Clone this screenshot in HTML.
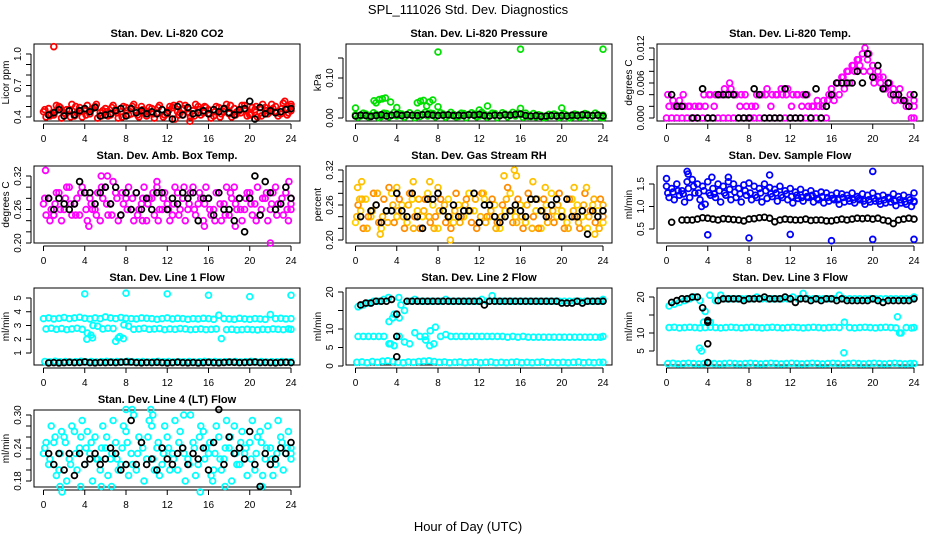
<!DOCTYPE html>
<html><head><meta charset="utf-8"><style>
html,body{margin:0;padding:0;background:#fff;}
svg{display:block;font-family:"Liberation Sans",Arial,sans-serif;}
</style></head><body>
<svg id="c" width="936" height="540" viewBox="0 0 936 540">
<text x="468" y="14" text-anchor="middle" font-size="13">SPL_111026  Std. Dev. Diagnostics</text>
<text x="468" y="531" text-anchor="middle" font-size="13">Hour of Day (UTC)</text>
</svg>
<script>
// ---- shared categories ----
const hours = []; for (let i = 0; i <= 48; i++) hours.push(i * 0.5);
const hoursB = []; for (let i = 0; i <= 48; i++) hoursB.push(Math.min(24, i * 0.5 + 0.25));
const hoursC = []; for (let i = 0; i <= 48; i++) hoursC.push(Math.min(24, i * 0.5 + 0.125));
const xTicks = [0, 4, 8, 12, 16, 20, 24];

// ---- CO2 ----
const co2A = [0.45,0.48,0.42,0.50,0.44,0.47,0.41,0.49,0.46,0.43,0.50,0.44,0.48,0.42,0.47,0.45,0.49,0.43,0.46,0.50,0.41,0.48,0.44,0.47,0.43,0.49,0.45,0.42,0.48,0.46,0.50,0.44,0.47,0.41,0.49,0.45,0.43,0.48,0.46,0.51,0.42,0.47,0.44,0.49,0.45,0.50,0.43,0.48,0.52];
const co2B = [0.40,0.43,0.51,0.39,0.47,0.52,0.44,0.40,0.51,0.48,0.39,0.46,0.41,0.51,0.39,0.50,0.42,0.52,0.40,0.44,0.49,0.39,0.51,0.42,0.50,0.38,0.44,0.51,0.40,0.52,0.42,0.49,0.39,0.50,0.43,0.52,0.40,0.45,0.51,0.41,0.49,0.40,0.52,0.43,0.48,0.41,0.53,0.44,0.46];
const co2C = [0.47,0.41,0.45,0.49,0.43,0.40,0.50,0.46,0.42,0.47,0.52,0.41,0.45,0.49,0.44,0.40,0.46,0.50,0.42,0.47,0.45,0.43,0.49,0.40,0.46,0.51,0.42,0.48,0.44,0.41,0.47,0.50,0.43,0.45,0.40,0.48,0.51,0.42,0.44,0.47,0.43,0.50,0.41,0.46,0.52,0.44,0.48,0.42,0.50];
const co2OutH = [1.0,13.2,14.2,23.4];
const co2OutV = [1.07,0.52,0.36,0.55];
const co2K = [null,0.42,0.44,0.47,0.41,0.46,0.42,0.46,0.48,0.45,0.49,0.41,0.42,0.43,0.46,0.48,0.41,0.48,0.44,0.46,0.43,0.45,0.43,0.47,0.44,0.38,0.50,0.42,0.49,0.43,0.44,0.46,0.43,0.47,0.45,0.48,0.44,0.42,0.47,0.48,0.55,0.38,0.49,0.43,0.46,0.44,0.45,0.47,0.48];

// ---- Pressure ----
const prA = [0.008,0.005,0.010,0.006,0.009,0.004,0.011,0.007,0.005,0.010,0.008,0.006,0.012,0.009,0.005,0.011,0.007,0.010,0.006,0.009,0.004,0.011,0.008,0.010,0.005,0.009,0.007,0.011,0.006,0.010,0.008,0.005,0.009,0.012,0.004,0.003,0.006,0.002,0.005,0.007,0.004,0.006,0.003,0.008,0.005,0.009,0.006,0.008,0.007];
const prB = [0.002,0.012,0.003,0.013,0.001,0.012,0.003,0.014,0.011,0.002,0.013,0.001,0.004,0.014,0.012,0.003,0.013,0.002,0.014,0.003,0.012,0.001,0.013,0.003,0.014,0.002,0.012,0.001,0.013,0.003,0.014,0.012,0.002,0.004,0.011,0.008,0.001,0.009,0.010,0.001,0.010,0.000,0.010,0.002,0.011,0.001,0.012,0.002,0.001];
const prOutH = [0,1.8,2.0,2.3,2.6,2.9,3.4,4.0,6.0,6.3,6.6,6.9,7.2,7.5,8.0,8.0,12.0,12.8,16.0,16.0,20.0,24.0];
const prOutV = [0.025,0.043,0.038,0.046,0.048,0.050,0.040,0.026,0.038,0.042,0.044,0.030,0.040,0.045,0.028,0.165,0.020,0.030,0.024,0.172,0.025,0.172];
const prK = [0.005,0.007,0.006,0.004,0.006,0.008,0.005,0.007,0.009,0.006,0.008,0.007,0.006,0.008,0.009,0.007,0.006,0.007,0.008,0.006,0.007,0.006,0.008,0.007,0.009,0.006,0.005,0.007,0.006,0.008,0.007,0.009,0.010,0.006,0.005,0.006,0.004,0.005,0.006,0.005,0.006,0.005,0.007,0.006,0.008,0.007,0.006,0.007,0.005];

// ---- Li-820 Temp ----
const tpA = [0,0,0,0,0,0,0,0,0,0,0,0,0,0,0,0,0,0,0,0,0,0,0,0,0,0,0,0,0,0,0,0,0.005,0.006,0.007,0.008,0.009,0.010,0.011,0.010,0.009,0.008,0.007,0.006,0.005,0.004,0.003,0.002,0.000];
const tpB = [0.002,0.002,0.003,0.002,0.002,0.002,0.002,0.002,0.004,0.004,0.004,0.004,0.005,0.004,0.004,0.002,0.002,0.004,0.004,0.005,0.004,0.004,0.004,0.005,0.004,0.004,0.004,0.002,0.002,0.002,0.003,0.004,0.003,0.004,0.005,0.006,0.008,0.009,0.012,0.008,0.007,0.006,0.005,0.004,0.004,0.003,0.002,0.000,0.002];
const tpC = [0.004,0.003,0.002,0.004,0.002,0.000,0.002,0.004,0.004,0.002,0.004,0.005,0.006,0.004,0.002,0.004,0.000,0.002,0.004,0.004,0.002,0.004,0.005,0.004,0.002,0.004,0.002,0.004,0.002,0.003,0.002,0.003,0.004,0.006,0.007,0.008,0.009,0.010,0.008,0.011,0.006,0.007,0.005,0.006,0.003,0.005,0.003,0.004,0.003];
const tpK = [null,0.004,0.002,0.002,null,0.000,0.000,0.005,0.000,0.000,0.004,0.004,0.004,0.004,0.000,0.000,0.000,0.005,0.004,0.000,0.000,0.000,0.000,0.005,0.000,0.000,0.000,0.004,0.000,0.005,0.000,0.002,0.004,0.006,0.006,0.006,0.006,0.008,0.006,0.011,0.007,0.009,0.005,0.006,0.004,0.004,0.003,0.002,0.004];

// ---- Amb Box Temp ----
const abA = [0.27,0.28,0.25,0.29,0.26,0.30,0.27,0.25,0.29,0.28,0.26,0.24,0.30,0.27,0.29,0.25,0.28,0.26,0.29,0.27,0.24,0.28,0.30,0.26,0.27,0.25,0.29,0.28,0.26,0.30,0.27,0.24,0.28,0.26,0.29,0.27,0.25,0.30,0.28,0.26,0.29,0.27,0.25,0.28,0.26,0.30,0.27,0.29,0.26];
const abB = [0.25,0.26,0.29,0.24,0.30,0.25,0.28,0.30,0.24,0.26,0.29,0.28,0.25,0.31,0.24,0.27,0.30,0.24,0.26,0.30,0.28,0.25,0.26,0.29,0.24,0.30,0.26,0.24,0.29,0.25,0.28,0.30,0.25,0.29,0.24,0.30,0.28,0.26,0.24,0.29,0.25,0.30,0.28,0.24,0.29,0.27,0.25,0.24,0.28];
const abC = [0.28,0.24,0.27,0.26,0.28,0.27,0.25,0.29,0.26,0.27,0.25,0.30,0.27,0.25,0.28,0.29,0.26,0.28,0.25,0.28,0.27,0.29,0.24,0.28,0.26,0.27,0.25,0.30,0.27,0.26,0.29,0.27,0.26,0.24,0.27,0.25,0.29,0.27,0.26,0.28,0.27,0.24,0.26,0.29,0.27,0.25,0.28,0.26,0.27];
const abOutH = [0.2,1.0,4.4,5.6,6.2,9.6,11.0,15.6,18.6,22.0,23.8];
const abOutV = [0.33,0.25,0.23,0.32,0.32,0.24,0.31,0.23,0.23,0.20,0.31];
const abK = [null,0.28,0.26,0.28,0.27,0.26,0.27,0.31,0.29,0.29,0.27,0.29,0.30,0.27,0.30,0.25,0.29,0.26,0.29,0.26,0.28,0.26,0.29,0.29,0.26,0.28,0.27,0.29,0.28,0.29,0.24,0.28,0.28,0.25,0.29,0.26,0.26,0.24,0.28,0.22,0.28,0.32,0.25,0.31,0.29,0.26,0.27,0.30,0.28];

// ---- Gas Stream RH ----
const rhA = [0.23,0.25,0.27,0.24,0.26,0.22,0.25,0.28,0.24,0.26,0.23,0.27,0.25,0.24,0.28,0.26,0.22,0.25,0.27,0.23,0.26,0.24,0.28,0.25,0.23,0.27,0.24,0.26,0.22,0.25,0.28,0.24,0.26,0.23,0.27,0.25,0.22,0.26,0.28,0.24,0.25,0.23,0.27,0.26,0.24,0.22,0.26,0.25,0.23];
const rhB = [0.26,0.22,0.24,0.28,0.23,0.27,0.29,0.23,0.27,0.22,0.28,0.24,0.22,0.27,0.23,0.24,0.27,0.23,0.22,0.28,0.24,0.27,0.23,0.22,0.28,0.24,0.27,0.23,0.26,0.29,0.23,0.27,0.22,0.28,0.24,0.22,0.27,0.24,0.23,0.28,0.22,0.27,0.24,0.22,0.28,0.25,0.23,0.27,0.24];
const rhC = [0.24,0.27,0.22,0.25,0.28,0.24,0.23,0.26,0.25,0.24,0.26,0.22,0.27,0.25,0.24,0.22,0.25,0.26,0.24,0.25,0.23,0.26,0.25,0.27,0.24,0.23,0.25,0.22,0.24,0.27,0.25,0.23,0.24,0.26,0.22,0.27,0.25,0.23,0.25,0.26,0.24,0.22,0.25,0.23,0.26,0.24,0.27,0.22,0.26];
const rhOutH = [0.2,0.4,0.6,2.4,4.0,5.6,7.2,8.0,9.2,12.4,14.4,15.4,15.6,17.2,18.4,21.2,22.4,23.2];
const rhOutV = [0.29,0.27,0.30,0.21,0.29,0.30,0.30,0.29,0.20,0.28,0.31,0.32,0.31,0.30,0.29,0.29,0.29,0.21];
const rhK = [null,0.24,null,0.25,0.26,0.23,0.25,0.25,0.28,0.25,0.24,0.28,0.24,0.22,0.27,0.27,0.28,0.25,0.24,0.26,0.24,0.25,0.25,0.28,0.23,0.26,0.26,0.24,0.23,0.24,0.25,0.26,0.25,0.24,0.27,0.27,0.25,0.24,0.26,0.27,0.24,0.27,0.24,0.24,0.25,0.21,0.25,0.24,0.25];

// ---- Sample Flow ----
const sfA = [1.45,1.40,1.50,1.35,1.55,1.60,1.50,1.45,1.55,1.40,1.50,1.45,1.55,1.50,1.40,1.48,1.52,1.45,1.40,1.50,1.42,1.38,1.45,1.35,1.40,1.32,1.38,1.30,1.35,1.28,1.32,1.30,1.25,1.30,1.28,1.25,1.30,1.22,1.28,1.25,1.30,1.22,1.25,1.20,1.28,1.22,1.25,1.20,1.30];
const sfB = [1.20,1.15,1.25,1.10,1.20,1.30,1.15,1.05,1.25,1.20,1.10,1.25,1.15,1.20,1.10,1.25,1.15,1.20,1.10,1.18,1.22,1.12,1.20,1.15,1.08,1.18,1.12,1.20,1.10,1.15,1.08,1.12,1.15,1.05,1.10,1.12,1.08,1.15,1.05,1.10,1.12,1.05,1.08,1.10,1.02,1.08,1.05,1.00,1.10];
const sfC = [1.30,1.32,1.35,1.28,1.40,1.45,1.30,1.35,1.30,1.28,1.35,1.30,1.38,1.32,1.28,1.35,1.30,1.25,1.30,1.35,1.28,1.30,1.25,1.28,1.22,1.25,1.20,1.22,1.25,1.18,1.22,1.20,1.18,1.15,1.20,1.18,1.15,1.18,1.12,1.15,1.18,1.12,1.15,1.18,1.12,1.15,1.10,1.15,1.12];
const sfOutH = [0,2,2.1,4,4.4,6,8,10,12,16,20,20,24,3.4];
const sfOutV = [1.62,1.78,1.72,0.37,1.65,1.65,0.30,1.70,0.38,0.24,1.78,0.27,0.27,1.0];
const sfK = [null,0.65,null,0.70,0.70,0.70,0.72,0.75,0.74,0.72,0.70,0.73,0.72,0.71,0.70,0.68,0.72,0.73,0.75,0.76,0.74,0.66,0.70,0.72,0.71,0.70,0.70,0.72,0.69,0.70,0.70,0.68,0.68,0.70,0.72,0.70,0.72,0.74,0.73,0.74,0.72,0.74,0.70,0.68,0.62,0.70,0.72,0.74,0.72];

// ---- Line 1 Flow ----
const l1A = [3.50,3.55,3.48,3.52,3.58,3.50,3.55,3.60,3.52,3.48,3.55,3.50,3.62,3.55,3.50,3.58,3.52,3.50,3.48,3.55,3.52,3.50,3.45,3.50,3.55,3.48,3.52,3.50,3.45,3.50,3.48,3.52,3.50,3.45,3.75,3.50,3.48,3.45,3.52,3.48,3.45,3.50,3.48,3.45,3.80,3.50,3.52,3.48,3.50];
const l1B = [2.75,2.80,2.72,2.78,2.70,2.75,2.80,2.72,2.45,2.10,2.95,2.75,2.80,2.78,2.10,2.05,2.95,2.72,2.75,2.80,2.72,2.75,2.78,2.70,2.75,2.72,2.78,2.75,2.70,2.72,2.75,2.70,2.72,2.75,2.05,2.70,2.72,2.68,2.70,2.72,2.70,2.68,2.72,2.70,2.75,2.72,2.70,2.75,2.72];
const l1C = [0.38,0.35,0.40,0.36,0.38,0.35,0.37,0.40,0.36,0.38,0.35,0.37,0.39,0.36,0.38,0.35,0.40,0.37,0.36,0.38,0.35,0.37,0.39,0.36,0.38,0.35,0.37,0.36,0.38,0.35,0.37,0.39,0.36,0.38,0.35,0.37,0.36,0.38,0.35,0.37,0.39,0.36,0.38,0.35,0.37,0.36,0.38,0.35,0.37];
const l1OutH = [4,8,12,16,20,24,7,7.4,7.8,4.2,4.6,4.8];
const l1OutV = [5.3,5.35,5.3,5.2,5.1,5.2,1.85,2.2,3.05,2.0,2.3,3.0];
const l1K = [null,0.28,0.30,0.28,0.30,0.32,0.30,0.31,0.35,0.30,0.29,0.31,0.30,0.32,0.30,0.33,0.35,0.34,0.30,0.29,0.31,0.30,0.32,0.30,0.28,0.30,0.33,0.30,0.29,0.31,0.28,0.30,0.32,0.30,0.29,0.31,0.33,0.32,0.30,0.31,0.32,0.34,0.30,0.31,0.30,0.29,0.31,0.32,0.30];

// ---- Line 2 Flow ----
const l2A = [16,16.5,17,17.5,17.5,18,12,14,13,15,17.5,18,17.5,17.5,17.5,17.5,17.5,18,17.5,17.5,17.5,17.5,17.5,17.5,18,17.5,19,17.5,17.5,17.5,17.5,17.5,17.5,17.5,17.5,17.5,17.5,17.5,17.5,17.5,17.5,17.5,17.5,17.5,17.5,17.5,17.5,17.5,18];
const l2B = [8,8,8,8,8,8,6,5.5,8,6.5,6,9,8,8,9.5,10.5,8,8.5,8,8,8,8,8,8,8,8,8,8,8,7.8,8,7.8,8,7.8,7.8,7.8,7.8,7.8,7.8,7.8,7.8,7.8,7.8,7.8,7.8,7.8,7.8,7.8,8];
const l2C = [1.0,1.1,0.9,1.2,1.0,1.3,1.4,1.2,1.0,0.9,1.1,1.0,1.2,1.3,1.4,1.2,1.0,1.1,0.9,1.0,1.1,0.9,1.0,1.1,0.9,1.0,1.1,0.9,1.0,0.9,1.0,1.1,0.9,1.0,0.9,1.0,1.1,0.9,1.0,0.9,1.0,0.9,1.0,1.1,0.9,1.0,0.9,1.0,1.0];
const l2OutH = [3.6,4.2,4.4,7.2,7.6,6.8,3.2,3.4];
const l2OutV = [13,18.5,16.5,5.5,6,7,18.5,6];
const l2K = [null,16.5,17,17,17.5,17.5,17.5,18,14,null,17.5,17.5,17.5,17.5,17.5,17.5,17.5,17.5,17.5,17.5,17.5,17.5,17.5,17.5,17.5,16.5,17.5,17.5,17.5,17.5,17.5,17.5,17.5,17.5,17.5,17.5,17.5,17.5,17.5,17.5,17,17,17,17.5,17,17.5,17.5,17.5,17.5];
const l2KxH = [4,4];
const l2KxV = [8,2.5];

// ---- Line 3 Flow ----
const l3A = [17.5,18,18.5,19,19.5,20,19,16,13,19,20.5,19.5,19.5,19.5,19.5,19.5,19.5,20,19.5,19.5,19.5,19.5,19.5,19.5,20,19.5,21,19.5,19.5,19.5,19.5,19.5,19.5,20.5,19.5,19.5,19.5,19.5,19.5,19.5,19.5,19.5,19.5,19.5,19.5,19.5,19.5,19.5,20];
const l3B = [11.5,11.6,11.4,11.5,11.6,11.5,11.4,11.5,11.6,11.5,11.4,11.5,11.6,11.5,11.4,11.5,11.6,11.5,11.4,11.5,11.6,11.5,11.4,11.5,11.6,11.5,11.4,11.5,11.6,11.5,11.4,11.5,11.6,11.5,13,11.5,11.4,11.5,11.6,11.5,11.4,11.5,11.6,11.5,11.4,10,11.5,11.4,11.5];
const l3C = [1.5,1.6,1.4,1.5,1.6,1.5,1.4,1.5,1.6,1.5,1.4,1.5,1.6,1.5,1.4,1.5,1.6,1.5,1.4,1.5,1.6,1.5,1.4,1.5,1.6,1.5,1.4,1.5,1.6,1.5,1.4,1.5,1.6,1.5,1.4,1.5,1.6,1.5,1.4,1.5,1.6,1.5,1.4,1.5,1.6,1.5,1.4,1.5,1.5];
const l3OutH = [3.2,3.4,3.6,17.2,22.4,22.6,4.2];
const l3OutV = [5.8,5,13,4.5,14.5,10,20.5];
const l3K = [null,18.5,19,19.5,19.5,20,20,17,13,null,19,19.5,19.5,19.5,19.5,19,19.5,19.5,19.5,20,19.5,19.5,19.5,20,19.5,18.5,19.5,19.5,19,19.5,19,19.5,19.5,19,19.5,19,19,19,19,19,19.5,19,18.5,19,19,19,19,19,19.5];
const l3KxH = [4,4,4];
const l3KxV = [13.5,7,1.8];

// ---- Line 4 Flow ----
const l4A = [0.23,0.21,0.25,0.20,0.26,0.22,0.27,0.24,0.21,0.23,0.26,0.20,0.24,0.22,0.25,0.21,0.27,0.23,0.20,0.25,0.22,0.28,0.24,0.21,0.26,0.23,0.20,0.24,0.22,0.25,0.21,0.27,0.23,0.20,0.26,0.22,0.24,0.28,0.21,0.23,0.25,0.20,0.27,0.22,0.24,0.21,0.26,0.23,0.22];
const l4B = [0.25,0.28,0.19,0.27,0.18,0.28,0.20,0.29,0.27,0.18,0.22,0.28,0.19,0.29,0.20,0.28,0.19,0.30,0.26,0.18,0.29,0.20,0.19,0.28,0.20,0.29,0.27,0.18,0.30,0.19,0.28,0.24,0.19,0.28,0.20,0.29,0.18,0.21,0.27,0.19,0.29,0.26,0.19,0.28,0.19,0.29,0.20,0.27,0.24];
const l4C = [0.24,0.22,0.26,0.23,0.25,0.21,0.23,0.26,0.24,0.25,0.22,0.24,0.26,0.23,0.22,0.24,0.25,0.21,0.23,0.24,0.26,0.22,0.25,0.23,0.24,0.22,0.25,0.23,0.21,0.24,0.26,0.22,0.25,0.23,0.22,0.24,0.26,0.23,0.25,0.24,0.22,0.23,0.25,0.24,0.22,0.23,0.25,0.24,0.23];
const l4OutH = [1.6,1.8,3.6,5.6,6.6,8.0,8.6,10.4,10.6,13.6,15.2,16.4,17.6,21.2];
const l4OutV = [0.17,0.16,0.17,0.17,0.17,0.31,0.31,0.31,0.30,0.30,0.16,0.18,0.17,0.17];
const l4K = [null,0.23,0.21,0.23,0.20,0.23,0.19,0.23,0.21,0.22,0.23,0.21,0.22,0.24,0.23,0.20,0.21,0.29,0.21,0.25,0.21,0.22,0.20,0.24,0.22,0.21,0.23,0.24,0.21,0.23,0.22,0.24,0.20,0.25,0.31,0.21,0.26,0.23,0.24,0.22,0.27,0.21,0.17,0.23,0.21,0.22,0.24,0.23,0.25];

// ---- rendering ----
const NS = 'http://www.w3.org/2000/svg';
const svg = document.getElementById('c');
function mk(tag, attrs, parent) {
  const e = document.createElementNS(NS, tag);
  for (const k in attrs) e.setAttribute(k, attrs[k]);
  (parent || svg).appendChild(e);
  return e;
}
const colL = [34, 346, 657], rowT = [44, 166, 288, 410], BW = 266, BH = 77;
function fmt(v, d) { return v.toFixed(d); }

function panel(cfg) {
  const L = colL[cfg.col], T = rowT[cfg.row];
  const g = mk('g', {});
  
  
  const xs = h => L + 9.5 + h * (247.5 / 24);
  const ys = v => cfg.py0 - (v - cfg.v0) * cfg.k;
  const t = mk('text', {x: L + BW / 2, y: T - 7, 'text-anchor': 'middle', 'font-size': 11, 'font-weight': 'bold'}, g);
  t.textContent = cfg.title;
  
  
  const box = mk('rect', {x: L, y: T, width: BW, height: BH, fill: 'none', stroke: '#000', 'stroke-width': 1}, g);
  
  
  const xa = mk('g', {}, g);
  
  
  mk('line', {x1: xs(0), x2: xs(24), y1: T + BH + 3, y2: T + BH + 3, stroke: '#000'}, xa);
  xTicks.forEach(h => {
    mk('line', {x1: xs(h), x2: xs(h), y1: T + BH + 3, y2: T + BH + 8, stroke: '#000'}, xa);
    const tx = mk('text', {x: xs(h), y: T + BH + 21, 'text-anchor': 'middle', 'font-size': 10}, xa);
    tx.textContent = h;
  });
  const ya = mk('g', {}, g);
  
  
  const yt = cfg.yTicks;
  mk('line', {x1: L - 3, x2: L - 3, y1: ys(yt[0]), y2: ys(yt[yt.length - 1]), stroke: '#000'}, ya);
  yt.forEach(v => mk('line', {x1: L - 8, x2: L - 3, y1: ys(v), y2: ys(v), stroke: '#000'}, ya));
  cfg.yLabels.forEach(v => {
    const y = ys(v), x = L - 13;
    const tx = mk('text', {x: x, y: y, 'text-anchor': 'middle', 'font-size': 10, transform: `rotate(-90 ${x} ${y})`}, ya);
    tx.textContent = fmt(v, cfg.dec);
  });
  const yx = L - 25, yy = T + BH / 2;
  const yl = mk('text', {x: yx, y: yy, 'text-anchor': 'middle', 'font-size': 10, transform: `rotate(-90 ${yx} ${yy})`}, g);
  yl.textContent = cfg.ylab;
  
  
  cfg.series.forEach(s => {
    const sg = mk('g', {fill: 'none', stroke: s.color, 'stroke-width': 1.8}, g);
    
    
    const n = Math.min(s.h.length, s.v.length);
    for (let i = 0; i < n; i++) {
      if (s.v[i] === null) continue;
      const c = mk('circle', {cx: xs(s.h[i]), cy: ys(s.v[i]), r: 2.9}, sg);
      
      
    }
  });
}
const rng = (a, b, s) => { const r = []; for (let v = a; v <= b + 1e-9; v += s) r.push(+v.toFixed(4)); return r; };

panel({name:'co2', title:'Stan. Dev. Li-820 CO2', col:0, row:0, py0:117, v0:0.4, k:105, yTicks:rng(0.4,1.0,0.1), yLabels:[0.4,0.7,1.0], dec:1, ylab:'Licor ppm',
  series:[{id:'series-a',h:hours,v:co2A,color:'#ff0000'},{id:'series-b',h:hoursB,v:co2B,color:'#ff0000'},{id:'series-c',h:hoursC,v:co2C,color:'#ff0000'},{id:'outliers',h:co2OutH,v:co2OutV,color:'#ff0000'},{id:'black-series',h:hours,v:co2K,color:'#000'}]});
panel({name:'pressure', title:'Stan. Dev. Li-820 Pressure', col:1, row:0, py0:118, v0:0, k:400, yTicks:[0,0.05,0.1,0.15], yLabels:[0,0.1], dec:2, ylab:'kPa',
  series:[{id:'series-a',h:hours,v:prA,color:'#00e000'},{id:'series-b',h:hoursB,v:prB,color:'#00e000'},{id:'outliers',h:prOutH,v:prOutV,color:'#00e000'},{id:'black-series',h:hours,v:prK,color:'#000'}]});
panel({name:'li820-temp', title:'Stan. Dev. Li-820 Temp.', col:2, row:0, py0:118, v0:0, k:70/0.012, yTicks:rng(0,0.012,0.002), yLabels:[0,0.006,0.012], dec:3, ylab:'degrees C',
  series:[{id:'series-a',h:hours,v:tpA,color:'#ff00ff'},{id:'series-b',h:hoursB,v:tpB,color:'#ff00ff'},{id:'series-c',h:hoursC,v:tpC,color:'#ff00ff'},{id:'black-series',h:hours,v:tpK,color:'#000'}]});
panel({name:'amb-box-temp', title:'Stan. Dev. Amb. Box Temp.', col:0, row:1, py0:243, v0:0.2, k:67/0.12, yTicks:rng(0.2,0.32,0.02), yLabels:[0.2,0.26,0.32], dec:2, ylab:'degrees C',
  series:[{id:'series-a',h:hours,v:abA,color:'#ff00ff'},{id:'series-b',h:hoursB,v:abB,color:'#ff00ff'},{id:'series-c',h:hoursC,v:abC,color:'#ff00ff'},{id:'outliers',h:abOutH,v:abOutV,color:'#ff00ff'},{id:'black-series',h:hours,v:abK,color:'#000'}]});
panel({name:'gas-rh', title:'Stan. Dev. Gas Stream RH', col:1, row:1, py0:240, v0:0.2, k:70/0.12, yTicks:rng(0.2,0.32,0.02), yLabels:[0.2,0.26,0.32], dec:2, ylab:'percent',
  series:[{id:'series-a',h:hours,v:rhA,color:'#ffd000'},{id:'series-b',h:hoursB,v:rhB,color:'#ff8c00'},{id:'series-c',h:hoursC,v:rhC,color:'#ffb000'},{id:'outliers',h:rhOutH,v:rhOutV,color:'#ffc000'},{id:'black-series',h:hours,v:rhK,color:'#000'}]});
panel({name:'sample-flow', title:'Stan. Dev. Sample Flow', col:2, row:1, py0:206.5, v0:1, k:45, yTicks:[0.5,1.0,1.5], yLabels:[0.5,1.0,1.5], dec:1, ylab:'ml/min',
  series:[{id:'series-a',h:hours,v:sfA,color:'#0000ff'},{id:'series-b',h:hoursB,v:sfB,color:'#0000ff'},{id:'series-c',h:hoursC,v:sfC,color:'#0000ff'},{id:'outliers',h:sfOutH,v:sfOutV,color:'#0000ff'},{id:'black-series',h:hours,v:sfK,color:'#000'}]});
panel({name:'line1-flow', title:'Stan. Dev. Line 1 Flow', col:0, row:2, py0:353, v0:1, k:13.75, yTicks:[1,2,3,4,5], yLabels:[1,2,3,4,5], dec:0, ylab:'ml/min',
  series:[{id:'series-a',h:hours,v:l1A,color:'#00ffff'},{id:'series-b',h:hoursB,v:l1B,color:'#00ffff'},{id:'series-c',h:hoursC,v:l1C,color:'#00ffff'},{id:'outliers',h:l1OutH,v:l1OutV,color:'#00ffff'},{id:'black-series',h:hours,v:l1K,color:'#000'}]});
panel({name:'line2-flow', title:'Stan. Dev. Line 2 Flow', col:1, row:2, py0:366, v0:0, k:3.7, yTicks:[0,5,10,15,20], yLabels:[0,5,10,20], dec:0, ylab:'ml/min',
  series:[{id:'series-a',h:hoursB,v:l2A,color:'#00ffff'},{id:'series-b',h:hoursB,v:l2B,color:'#00ffff'},{id:'series-c',h:hoursC,v:l2C,color:'#00ffff'},{id:'outliers',h:l2OutH,v:l2OutV,color:'#00ffff'},{id:'black-series',h:hours,v:l2K,color:'#000'},{id:'black-extra',h:l2KxH,v:l2KxV,color:'#000'}]});
panel({name:'line3-flow', title:'Stan. Dev. Line 3 Flow', col:2, row:2, py0:369, v0:0, k:3.6, yTicks:[5,10,15,20], yLabels:[5,10,20], dec:0, ylab:'ml/min',
  series:[{id:'series-a',h:hoursB,v:l3A,color:'#00ffff'},{id:'series-b',h:hoursB,v:l3B,color:'#00ffff'},{id:'series-c',h:hoursC,v:l3C,color:'#00ffff'},{id:'outliers',h:l3OutH,v:l3OutV,color:'#00ffff'},{id:'black-series',h:hours,v:l3K,color:'#000'},{id:'black-extra',h:l3KxH,v:l3KxV,color:'#000'}]});
panel({name:'line4-flow', title:'Stan. Dev. Line 4 (LT) Flow', col:0, row:3, py0:481, v0:0.18, k:66/0.12, yTicks:rng(0.18,0.30,0.02), yLabels:[0.18,0.24,0.30], dec:2, ylab:'ml/min',
  series:[{id:'series-a',h:hours,v:l4A,color:'#00ffff'},{id:'series-b',h:hoursB,v:l4B,color:'#00ffff'},{id:'series-c',h:hoursC,v:l4C,color:'#00ffff'},{id:'outliers',h:l4OutH,v:l4OutV,color:'#00ffff'},{id:'black-series',h:hours,v:l4K,color:'#000'}]});
</script>
</body></html>
